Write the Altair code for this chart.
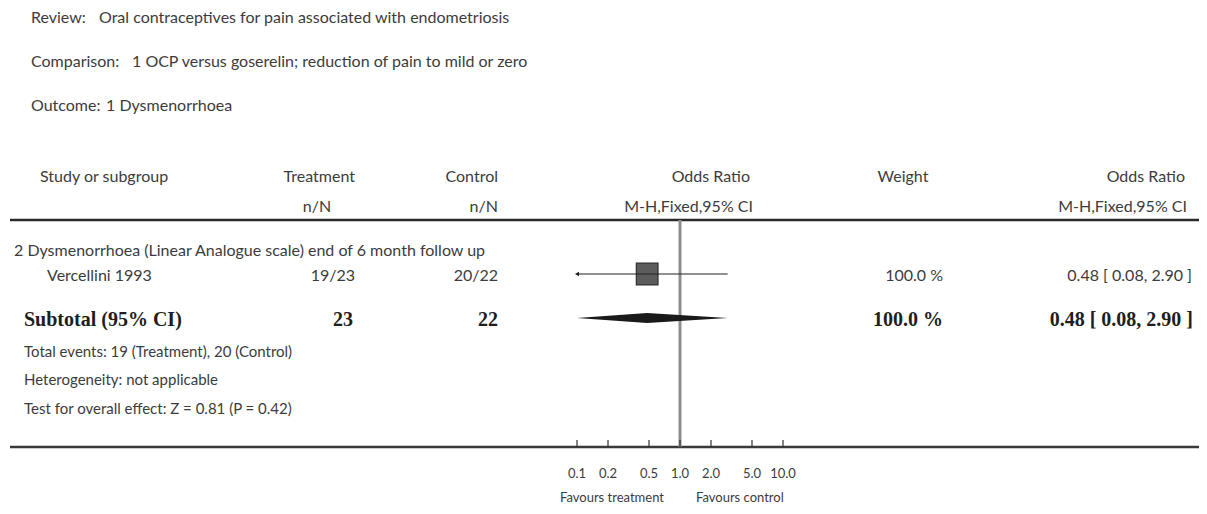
import altair as alt
import pandas as pd

# ---------------- data ----------------
meta_labels = ["Review:", "Comparison:", "Outcome:"]
meta_values = [
    "Oral contraceptives for pain associated with endometriosis",
    "1 OCP versus goserelin; reduction of pain to mild or zero",
    "1 Dysmenorrhoea",
]
header_top = ["Study or subgroup", "Treatment", "Control", "Odds Ratio", "Weight", "Odds Ratio"]
header_sub = ["n/N", "n/N", "M-H,Fixed,95% CI", "M-H,Fixed,95% CI"]
subgroup_title = "2 Dysmenorrhoea (Linear Analogue scale) end of 6 month follow up"
studies = ["Vercellini 1993"]
treat_events = [19]
treat_total = [23]
ctrl_events = [20]
ctrl_total = [22]
odds_ratio = [0.48]
ci_low = [0.08]
ci_high = [2.90]
weights = [100.0]
subtotal_label = "Subtotal (95% CI)"
subtotal_or = [0.48]
subtotal_low = [0.08]
subtotal_high = [2.90]
footnotes = [
    "Total events: 19 (Treatment), 20 (Control)",
    "Heterogeneity: not applicable",
    "Test for overall effect: Z = 0.81 (P = 0.42)",
]
tick_values = [0.1, 0.2, 0.5, 1, 2, 5, 10]
tick_labels = ["0.1", "0.2", "0.5", "1.0", "2.0", "5.0", "10.0"]
favours = ["Favours treatment", "Favours control"]

# ---------------- layout (page pixel coordinates) ----------------
W, H = 1191, 498
PX = alt.Scale(domain=[8, 8 + W], range=[0, W])
PY = alt.Scale(domain=[8, 8 + H], range=[0, H])
AXIS_MIN, AXIS_MAX = 0.1, 10
XS = alt.Scale(type="log", domain=[AXIS_MIN, AXIS_MAX], range=[577 - 8, 783 - 8])

SANS = "Lato"
SERIF = "Liberation Serif"
TXT = "#3c3c3c"
BOLD = "#1e1e1e"
FS = 16

Y_META = [18, 62, 106]
Y_H1, Y_H2 = 177, 207
Y_RULE_TOP, Y_RULE_BOT = 220, 447
Y_SUBGROUP, Y_STUDY, Y_SUB = 251, 276, 320
Y_FOOT = [352, 380, 409]
Y_TICKLAB, Y_FAV = 474, 498

X_LEFT = 31
X_META_VALS = [99, 132, 106]
X_STUDY_HDR, X_SUBGROUP, X_STUDY, X_TOTALS = 40, 14, 47, 24
X_TREAT, X_TREAT_NN, X_CTRL = 355, 317, 498
X_OR_HDR, X_WEIGHT_HDR, X_WEIGHT, X_OR_R_HDR, X_OR_R = 750, 903, 943, 1185, 1192


def text_layer(items, align="left", font=SANS, size=FS, weight="normal", color=TXT):
    df = pd.DataFrame(items, columns=["t", "x", "y"])
    return (
        alt.Chart(df)
        .mark_text(align=align, baseline="middle", font=font, fontSize=size,
                   fontWeight=weight, color=color)
        .encode(
            x=alt.X("x:Q", scale=PX, axis=None),
            y=alt.Y("y:Q", scale=PY, axis=None),
            text="t:N",
        )
    )


layers = []
layers.append(text_layer([(l, X_LEFT, y) for l, y in zip(meta_labels, Y_META)]))
layers.append(text_layer([(v, x, y) for v, x, y in zip(meta_values, X_META_VALS, Y_META)]))

# headers
layers.append(text_layer([(header_top[0], X_STUDY_HDR, Y_H1)]))
layers.append(text_layer([(header_top[1], X_TREAT, Y_H1), (header_top[2], X_CTRL, Y_H1),
                          (header_top[3], X_OR_HDR, Y_H1), (header_top[5], X_OR_R_HDR, Y_H1),
                          (header_sub[1], X_CTRL, Y_H2), (header_sub[2], X_OR_HDR + 3, Y_H2),
                          (header_sub[3], X_OR_R_HDR + 2, Y_H2)], align="right"))
layers.append(text_layer([(header_top[4], X_WEIGHT_HDR, Y_H1), (header_sub[0], X_TREAT_NN, Y_H2)],
                         align="center"))

# subgroup + study rows
layers.append(text_layer([(subgroup_title, X_SUBGROUP, Y_SUBGROUP)]))
layers.append(text_layer([(s, X_STUDY, Y_STUDY) for s in studies]))
num_rows = []
for i in range(len(studies)):
    num_rows += [
        (f"{treat_events[i]}/{treat_total[i]}", X_TREAT, Y_STUDY),
        (f"{ctrl_events[i]}/{ctrl_total[i]}", X_CTRL, Y_STUDY),
        (f"{weights[i]:.1f} %", X_WEIGHT, Y_STUDY),
        (f"{odds_ratio[i]:.2f} [ {ci_low[i]:.2f}, {ci_high[i]:.2f} ]", X_OR_R, Y_STUDY),
    ]
layers.append(text_layer(num_rows, align="right"))

# subtotal row (bold serif)
layers.append(text_layer([(subtotal_label, X_TOTALS, Y_SUB)], font=SERIF, size=20,
                         weight="bold", color=BOLD))
layers.append(text_layer([
    (str(sum(treat_total)), X_TREAT - 2, Y_SUB),
    (str(sum(ctrl_total)), X_CTRL, Y_SUB),
    (f"{sum(weights):.1f} %", X_WEIGHT, Y_SUB),
    (f"{subtotal_or[0]:.2f} [ {subtotal_low[0]:.2f}, {subtotal_high[0]:.2f} ]", X_OR_R + 1, Y_SUB),
], align="right", font=SERIF, size=20, weight="bold", color=BOLD))

# footnotes
layers.append(text_layer([(f, X_TOTALS, y) for f, y in zip(footnotes, Y_FOOT)], size=FS - 1))

# ---------------- forest plot ----------------
one = pd.DataFrame({"a": [0]})
layers.append(alt.Chart(one).mark_rule(color="#2a2a2a", strokeWidth=2.6).encode(
    x=alt.value(10 - 8), x2=alt.value(W), y=alt.value(Y_RULE_TOP - 8)))
layers.append(alt.Chart(one).mark_rule(color="#3a3a3a", strokeWidth=2.6).encode(
    x=alt.value(10 - 8), x2=alt.value(W), y=alt.value(Y_RULE_BOT - 8)))

# line of no effect
layers.append(alt.Chart(pd.DataFrame({"v": [1.0]})).mark_rule(color="#8e8e8e", strokeWidth=3).encode(
    x=alt.X("v:Q", scale=XS, axis=None), y=alt.value(Y_RULE_TOP - 8), y2=alt.value(Y_RULE_BOT - 8)))

# ticks and labels
ticks = pd.DataFrame({"v": tick_values, "lab": tick_labels})
layers.append(alt.Chart(ticks).mark_rule(color="#333333", strokeWidth=1.2).encode(
    x=alt.X("v:Q", scale=XS, axis=None), y=alt.value(Y_RULE_BOT - 8 - 7), y2=alt.value(Y_RULE_BOT - 8)))
layers.append(alt.Chart(ticks).mark_text(font=SANS, fontSize=13, color=TXT, baseline="middle").encode(
    x=alt.X("v:Q", scale=XS, axis=None), y=alt.value(Y_TICKLAB - 8), text="lab:N"))

fav = pd.DataFrame({"v": [1.0], "t1": [favours[0]], "t2": [favours[1]]})
layers.append(alt.Chart(fav).mark_text(font=SANS, fontSize=13, color=TXT, baseline="middle",
                                        align="right", dx=-16).encode(
    x=alt.X("v:Q", scale=XS, axis=None), y=alt.value(Y_FAV - 8), text="t1:N"))
layers.append(alt.Chart(fav).mark_text(font=SANS, fontSize=13, color=TXT, baseline="middle",
                                        align="left", dx=16).encode(
    x=alt.X("v:Q", scale=XS, axis=None), y=alt.value(Y_FAV - 8), text="t2:N"))

# study estimate
st = pd.DataFrame({
    "or": odds_ratio, "lo": ci_low, "hi": ci_high, "w": weights,
    "lo_c": [max(v, AXIS_MIN) for v in ci_low],
    "hi_c": [min(v, AXIS_MAX) for v in ci_high],
    "y": [Y_STUDY - 2] * len(studies),
})
layers.append(alt.Chart(st).mark_square(filled=True, color="#5c5c5c", stroke="#2e2e2e",
                                         strokeWidth=1.2, opacity=1).encode(
    x=alt.X("or:Q", scale=XS, axis=None), y=alt.Y("y:Q", scale=PY, axis=None),
    size=alt.Size("w:Q", scale=alt.Scale(domain=[0, 100], range=[0, 470]), legend=None)))
layers.append(alt.Chart(st).mark_rule(color="#222222", strokeWidth=1.2).encode(
    x=alt.X("lo_c:Q", scale=XS, axis=None), x2="hi_c:Q", y=alt.Y("y:Q", scale=PY, axis=None)))
arrows = st[st["lo"] < AXIS_MIN]
layers.append(alt.Chart(arrows).mark_point(shape="triangle-left", filled=True, size=22,
                                            color="#222222", opacity=1).encode(
    x=alt.X("lo_c:Q", scale=XS, axis=None), y=alt.Y("y:Q", scale=PY, axis=None)))

# subtotal diamond
yc = Y_SUB - 2
half = 5
dia = pd.DataFrame({
    "or": [max(subtotal_low[0], AXIS_MIN), subtotal_or[0], min(subtotal_high[0], AXIS_MAX)],
    "y": [yc, yc - half, yc],
    "y2": [yc, yc + half, yc],
})
layers.append(alt.Chart(dia).mark_area(color="#1a1a1a", orient="vertical", opacity=1).encode(
    x=alt.X("or:Q", scale=XS, axis=None), y=alt.Y("y:Q", scale=PY, axis=None), y2="y2:Q"))

chart = (
    alt.layer(*layers)
    .resolve_scale(x="independent")
    .properties(width=W, height=H, autosize=alt.AutoSizeParams(type="none"), padding=0,
                background="white")
    .configure_view(stroke="transparent", strokeWidth=0)
)

chart.save("out.html", embed_options={"renderer": "svg", "actions": False})
